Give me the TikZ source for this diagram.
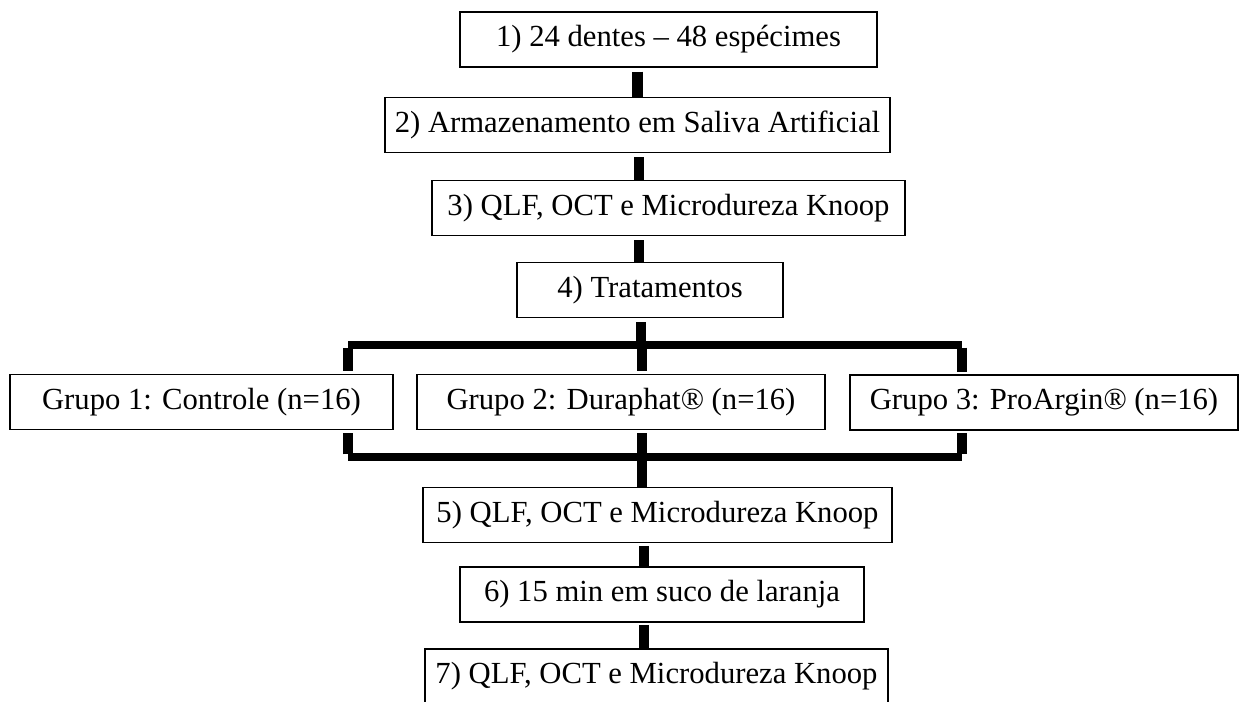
\documentclass[tikz,border=0pt]{standalone}
\usepackage{fontspec}
\setmainfont{Liberation Serif}
\tikzset{every picture/.style={line width=0.75pt}}
\tikzset{
  stage/.style={draw, line width=1.1pt, inner sep=0pt, minimum height=41.25pt,
    font=\fontsize{23}{27}\selectfont},
  conn/.style={line width=8pt},
  bus/.style={line width=5.5pt}
}

\begin{document}
\begin{tikzpicture}[x=0.75pt,y=0.75pt,yscale=-1,xscale=1]
\useasboundingbox (0,0) rectangle (1247,701);

%Shape: Rectangle [stages before treatment]
\node[stage, minimum width=312.75pt] (b1) at (668.5,39.5) {1) 24 dentes – 48 espécimes};
\node[stage, minimum width=378.75pt] (b2) at (637.5,125) {2) Armazenamento em Saliva Artificial};
\node[stage, minimum width=354.75pt] (b3) at (668.5,208) {3) QLF, OCT e Microdureza Knoop};
\node[stage, minimum width=199.5pt] (b4) at (650,290) {4) Tratamentos};

%Shape: Rectangle [groups]
\node[stage, minimum width=287.25pt] (g1) at (201.5,402) {Grupo 1: Controle (n=16)};
\node[stage, minimum width=306pt] (g2) at (621,402) {Grupo 2: Duraphat® (n=16)};
\node[stage, minimum width=291pt] (g3) at (1044,402.5) {Grupo 3: ProArgin® (n=16)};

%Shape: Rectangle [stages after treatment]
\node[stage, minimum width=351.75pt] (b5) at (657.5,515) {5) QLF, OCT e Microdureza Knoop};
\node[stage, minimum width=303pt] (b6) at (662,594.5) {6) 15 min em suco de laranja};
\node[stage, minimum width=347.25pt] (b7) at (656.5,676.5) {7) QLF, OCT e Microdureza Knoop};

%Straight Lines [vertical connectors]
\coordinate (k1) at (637.5,0);
\coordinate (k2) at (639,0);
\coordinate (k3) at (641,0);
\coordinate (k4) at (642,0);
\coordinate (k5) at (644,0);
\draw[conn] ([yshift=3pt]k1 |- b1.south) -- (k1 |- b2.north);
\draw[conn] ([yshift=3pt]k2 |- b2.south) -- (k2 |- b3.north);
\draw[conn] ([yshift=3pt]k2 |- b3.south) -- (k2 |- b4.north);
\draw[conn] ([yshift=2pt]k5 |- b5.south) -- (k5 |- b6.north);
\draw[conn] ([yshift=2pt]k5 |- b6.south) -- (k5 |- b7.north);

%Straight Lines [top bus]
\coordinate (t1) at (348,345);
\coordinate (t3) at (962,345);
\draw[bus] (t1) -- (t3);
\draw[conn] ([yshift=3pt]k3 |- b4.south) -- (k3 |- t1);
\draw[conn] ([yshift=2pt]t1) -- ([yshift=-2pt]t1 |- g1.north);
\draw[conn] (k4 |- t1) -- ([yshift=-2pt]k4 |- g2.north);
\draw[conn] ([yshift=2pt]t3) -- ([yshift=-2pt]t3 |- g3.north);

%Straight Lines [bottom bus]
\coordinate (u1) at (348,457);
\coordinate (u3) at (962,457);
\draw[bus] (u1) -- (u3);
\draw[conn] ([yshift=-2pt]u1) -- ([yshift=2pt]u1 |- g1.south);
\draw[conn] (k4 |- u1) -- ([yshift=2pt]k4 |- g2.south);
\draw[conn] ([yshift=-2pt]u3) -- ([yshift=2pt]u3 |- g3.south);
\draw[conn] (k4 |- u1) -- (k4 |- b5.north);

\end{tikzpicture}
\end{document}
